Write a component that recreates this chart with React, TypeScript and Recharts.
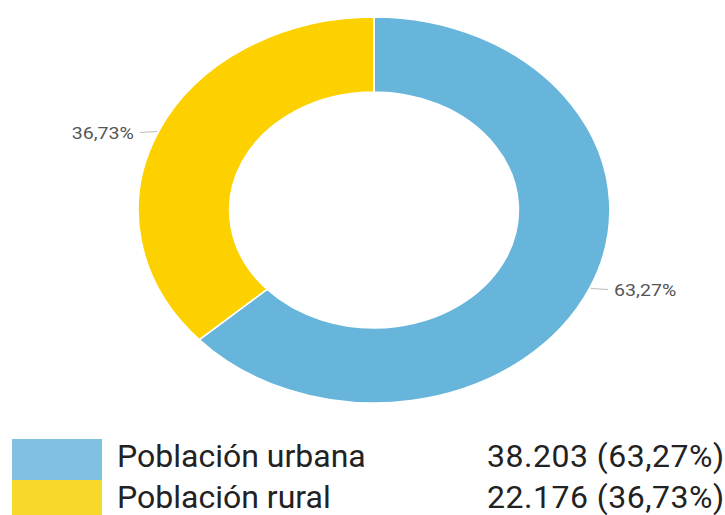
import React from "react";
import { PieChart, Pie, Cell } from "recharts";

const categories = ["Población urbana", "Población rural"];
const values = [38203, 22176];
const sliceColors = ["#67B5DA", "#FDD000"];
const legendColors = ["#80C0E0", "#F9D82C"];

const data = categories.map((name, i) => ({ name, value: values[i] }));
const total = values.reduce((a, b) => a + b, 0);

const fmtPct = (p: number) => (p * 100).toFixed(2).replace(".", ",") + "%";
const fmtNum = (v: number) => v.toLocaleString("de-DE");

const SX = 1.2228;
const RAD = Math.PI / 180;

const renderLabel = (props: any) => {
  const { cx, cy, midAngle, outerRadius, value } = props;
  const cos = Math.cos(-midAngle * RAD);
  const sin = Math.sin(-midAngle * RAD);
  const x0 = cx + (outerRadius + 1) * cos;
  const y0 = cy + (outerRadius + 1) * sin;
  const dir = cos >= 0 ? 1 : -1;
  const x1 = x0 + dir * 14;
  const y1 = y0 + 1;
  const tx = x1 + dir * 5;
  return (
    <g>
      <path d={`M${x0},${y0}L${x1},${y1}`} stroke="#bbb" strokeWidth={1} fill="none" />
      <text
        x={tx}
        y={y1 + 2}
        textAnchor={dir > 0 ? "start" : "end"}
        dominantBaseline="middle"
        fontFamily="Roboto, sans-serif"
        fontSize={16}
        fill="#555"
      >
        {fmtPct(value / total)}
      </text>
    </g>
  );
};

export default function App() {
  return (
    <div style={{ position: "absolute", left: 0, top: 0, width: 725, height: 515, background: "#fff", overflow: "hidden" }}>
      <div style={{ position: "absolute", left: 0, top: 0, transform: `scaleX(${SX})`, transformOrigin: "0 0" }}>
        <PieChart width={593} height={425} margin={{ top: 0, right: 0, bottom: 0, left: 0 }}>
          <Pie
            data={data}
            dataKey="value"
            nameKey="name"
            cx={374 / SX}
            cy={210}
            outerRadius={193}
            innerRadius={118}
            startAngle={90}
            endAngle={-270}
            stroke="#ffffff"
            strokeWidth={1.5}
            label={renderLabel}
            labelLine={false}
            isAnimationActive={false}
          >
            {data.map((d, i) => (
              <Cell key={d.name} fill={sliceColors[i]} />
            ))}
          </Pie>
        </PieChart>
      </div>
      {data.map((d, i) => (
        <div
          key={d.name}
          style={{
            position: "absolute",
            left: 0,
            top: 439 + i * 41,
            width: 725,
            height: 41,
            fontFamily: "Roboto, sans-serif",
            fontSize: 32,
            color: "#222",
          }}
        >
          <div style={{ position: "absolute", left: 12, top: 0, width: 90, height: 41, background: legendColors[i] }} />
          <div style={{ position: "absolute", left: 117, top: -3, height: 41, lineHeight: "41px", whiteSpace: "nowrap" }}>{d.name}</div>
          <div style={{ position: "absolute", left: 487, top: -3, height: 41, lineHeight: "41px", whiteSpace: "nowrap", letterSpacing: 0.5 }}>
            {fmtNum(d.value)} ({fmtPct(d.value / total)})
          </div>
        </div>
      ))}
    </div>
  );
}
